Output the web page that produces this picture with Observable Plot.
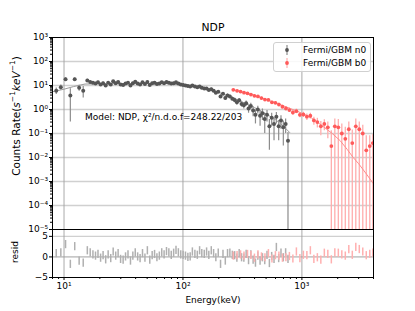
<!DOCTYPE html>
<html><head><meta charset="utf-8">
<script src="https://cdn.jsdelivr.net/npm/d3@7"></script>
<script src="https://cdn.jsdelivr.net/npm/@observablehq/plot@0.6"></script>
<style>
body{margin:0;background:#fff;font-family:"DejaVu Sans",sans-serif;}
#wrap{position:relative;width:415px;height:311px;overflow:hidden;}
#wrap svg{position:absolute;left:0;font-family:"DejaVu Sans",sans-serif;}
.lbl{position:absolute;white-space:nowrap;color:#000;font-size:9px;}
</style></head>
<body><div id="wrap"></div>
<script>
// ---------- data ----------
const title = "NDP";
const n0Label = "Fermi/GBM n0", b0Label = "Fermi/GBM b0";
const annText = "Model: NDP, χ²/n.d.o.f=248.22/203";
const annE = 15, annRate = 0.46;
const xTicks = [10, 100, 1000];
const yTicks = [1e-5, 1e-4, 1e-3, 1e-2, 1e-1, 1, 10, 100, 1000];
const rTicks = [-5, 0, 5];

const n0E = [8.6,9.4,10.3,11.3,12.3,13.4,14.5,15.7,16.6,17.5,18.4,19.3,20.3,21.3,22.4,23.5,24.7,25.9,27.2,28.5,29.9,31.4,32.9,34.5,36.2,37.9,39.7,41.6,43.6,45.7,47.9,50.2,52.6,55.1,57.7,60.4,63.3,66.3,69.4,72.7,76.1,79.7,83.5,87.4,91.5,95.8,100.3,105,110,115,120,126,132,138,144,151,158,165,173,181,189,198,207,217,227,237,248,260,272,284,297,311,325,340,356,372,389,407,426,445,466,487,509,533,557,583,610,638,667,698,730,764];
const n0Rate = [6.0,8.5,18,3.8,18,8.0,6.0,16,14,13,12,13.5,11,12.5,10,13,11,15,12.5,14,11,10.5,12,13,10,12.5,14.5,12,11,13.5,11.5,14,10.5,12.5,13,11.5,12,13.5,12.5,14,13,12,12.5,13.5,12,11,10.5,10,9.5,9.0,10,9.0,8.5,9.0,8.0,7.5,7.5,6.5,7.0,6.0,5.0,5.5,3.5,4.5,3.0,3.8,3.5,2.8,2.5,2.0,2.4,1.7,1.5,1.8,1.1,1.4,0.9,0.6,1.0,0.55,0.7,0.4,0.6,0.2,0.45,0.25,0.5,0.2,0.35,0.18,0.25,0.05];
const n0Err = [1.8,2.0,3,3.5,2.5,2.2,3.0,2.0,1.6,1.5,1.5,1.5,1.4,1.4,1.4,1.3,1.3,1.3,1.3,1.2,1.2,1.2,1.2,1.2,1.2,1.2,1.2,1.2,1.1,1.1,1.1,1.1,1.1,1.1,1.1,1.1,1.1,1.1,1.1,1.1,1.1,1.1,1.1,1.1,1.1,1.0,1.0,1.0,1.0,0.9,0.9,0.9,0.9,0.9,0.9,0.8,0.8,0.8,0.8,0.8,0.7,0.7,0.6,0.6,0.6,0.6,0.5,0.5,0.5,0.5,0.5,0.45,0.45,0.45,0.4,0.4,0.4,0.35,0.35,0.35,0.35,0.3,0.3,0.18,0.25,0.2,0.25,0.15,0.2,0.15,0.15,0.06];
const n0Resid = [0.8,1.0,3.0,-1.8,2.5,-1.0,-1.5,1.5,1.0,0.5,0.2,0.6,-0.3,0.3,-0.7,0.5,-0.4,1.2,0.2,0.8,-0.6,-0.8,0.0,0.5,-1.0,0.2,1.0,0.0,-0.4,0.8,-0.3,1.5,-0.8,0.3,0.6,-0.2,0.2,1.0,0.5,1.3,1.0,0.4,0.9,1.6,1.0,0.5,0.4,0.2,-0.1,0.0,1.2,0.6,0.4,1.5,0.8,0.6,1.2,0.4,1.5,0.8,-0.2,0.9,-1.8,0.6,-1.0,0.8,0.9,0.4,0.3,-0.3,0.8,-0.2,-0.3,0.6,-0.9,0.5,-0.8,-1.5,0.2,-1.0,-0.2,-0.9,0.4,-1.6,0.1,-0.6,2.3,-0.4,0.9,-0.2,1.0,-0.6];
const n0ModelE = [8,10,12,15,20,40,70,100,130,160,200,250,300,400,500,600,700,790];
const n0ModelRate = [5.5,7,9,11.5,11.8,12,12.2,10.5,9,7.5,5.2,3.4,2.3,1.2,0.65,0.38,0.2,0.11];

const b0E = [265,285,305,326,349,373,399,427,457,489,523,560,599,641,686,734,785,840,899,962,1029,1101,1178,1261,1349,1443,1544,1652,1768,1892,2024,2166,2317,2480,2653,2839,3038,3250,3478,3721,3950];
const b0Rate = [6.6,6.0,5.6,5.0,4.7,4.2,3.7,3.5,3.0,2.6,2.5,2.0,1.9,1.6,1.3,1.1,0.95,0.75,0.85,0.6,0.62,0.5,0.55,0.35,0.3,0.2,0.25,0.18,0.03,0.2,0.18,0.1,0.06,0.15,0.04,0.2,0.15,0.1,0.02,0.03,0.04];
const b0Err = [0.5,0.45,0.4,0.4,0.4,0.35,0.35,0.35,0.3,0.3,0.3,0.25,0.25,0.25,0.22,0.2,0.2,0.18,0.18,0.15,0.15,0.15,0.15,0.13,0.13,0.12,0.12,0.12,0.1,0.2,0.2,0.15,0.12,0.15,0.1,0.2,0.15,0.12,0.06,0.05,0.05];
const b0Resid = [0.2,0.3,0.5,0.2,0.6,0.4,-0.3,0.5,0.0,-0.2,0.8,-0.5,0.3,0.2,-0.3,-0.2,0.1,-0.5,1.2,-0.4,0.4,0.3,1.5,-0.6,-0.2,-0.8,0.9,0.6,-0.7,1.0,0.9,0.5,0.2,1.8,0.4,2.3,1.8,1.2,0.3,0.6,0.9];
const b0ModelE = [265,400,600,800,1000,1200,1500,1800,2100,2400,2700,3000,3500,4000];
const b0ModelRate = [6.6,3.9,1.9,1.1,0.7,0.45,0.2,0.1,0.05,0.022,0.01,0.0055,0.002,0.0008];

// ---------- build ----------
const mk = (E, R, S, Q) => E.map((e, i) => ({e, r: R[i], s: S[i], q: Q[i]}));
const n0 = mk(n0E, n0Rate, n0Err, n0Resid);
const b0 = mk(b0E, b0Rate, b0Err, b0Resid);
const n0Model = n0ModelE.map((e, i) => ({e, r: n0ModelRate[i]}));
const b0Model = b0ModelE.map((e, i) => ({e, r: b0ModelRate[i]}));
const lo = d => Math.max(d.r - d.s, 1e-7);

const supMap = {"-":"⁻","0":"⁰","1":"¹","2":"²","3":"³","4":"⁴","5":"⁵","6":"⁶","7":"⁷","8":"⁸","9":"⁹"};
const pow10 = v => "10" + String(Math.round(Math.log10(v))).split("").map(c => supMap[c]).join("");
const minorLog = (a, b) => { const out = []; for (let p = a; p < b; p++) for (let k = 2; k <= 9; k++) out.push(k * 10 ** p); return out; };
const xMinor = minorLog(0, 4).filter(v => v >= 8 && v <= 4000);
const yMinor = minorLog(-5, 3);

const W = 415, ML = 52, MR = 42;
const GRAYDOT = "#555", GRAYBAR = "#8c8c8c", REDDOT = "#ff5a5a", REDBAR = "#ffadad";

const main = Plot.plot({
  width: W, height: 240, marginTop: 37, marginBottom: 11, marginLeft: ML, marginRight: MR,
  style: {fontSize: "9px", fontFamily: "DejaVu Sans", color: "#000", background: "transparent"},
  x: {type: "log", domain: [8, 4000], axis: null},
  y: {type: "log", domain: [1e-5, 1e3], axis: null},
  marks: [
    Plot.ruleY(yTicks.slice(1, -1), {stroke: "#d0d0d0", strokeWidth: 1.4}),
    Plot.ruleX(xTicks, {stroke: "#a0a0a0", strokeWidth: 0.9}),
    Plot.ruleX(n0, {x: "e", y1: lo, y2: d => d.r + d.s, stroke: GRAYBAR, strokeWidth: 1.2, clip: true}),
    Plot.ruleX(b0, {x: "e", y1: lo, y2: d => d.r + d.s, stroke: REDBAR, strokeWidth: 1.3, clip: true}),
    Plot.line(n0Model, {x: "e", y: "r", stroke: "#9a9a9a", strokeWidth: 1, clip: true}),
    Plot.line(b0Model, {x: "e", y: "r", stroke: "#ff8c8c", strokeWidth: 1, clip: true}),
    Plot.dot(n0, {x: "e", y: "r", r: 2, fill: GRAYDOT, clip: true}),
    Plot.dot(b0, {x: "e", y: "r", r: 1.9, fill: REDDOT, clip: true}),
    Plot.text([{e: annE, r: annRate}], {x: "e", y: "r", text: () => annText, textAnchor: "start", fontSize: 9, fill: "#000"}),
    Plot.axisY(yMinor, {tickSize: 2, tickFormat: () => "", label: null, stroke: "#000"}),
    Plot.axisY(yTicks, {tickSize: 3, tickPadding: 1.5, tickFormat: pow10, label: null, stroke: "#000"}),
    Plot.frame({stroke: "#000", strokeWidth: 1})
  ]
});
main.style.top = "0px";

const resid = Plot.plot({
  width: W, height: 82, marginTop: 0, marginBottom: 34, marginLeft: ML, marginRight: MR,
  style: {fontSize: "9px", fontFamily: "DejaVu Sans", color: "#000", background: "transparent"},
  x: {type: "log", domain: [8, 4000], axis: null},
  y: {domain: [-5, 6.67], axis: null},
  marks: [
    Plot.ruleY([5], {stroke: "#d0d0d0", strokeWidth: 1.4}),
    Plot.ruleY([0], {stroke: "#a0a0a0", strokeWidth: 1}),
    Plot.ruleX(xTicks, {stroke: "#a0a0a0", strokeWidth: 0.9}),
    Plot.ruleX(n0, {x: "e", y1: d => d.q - 1, y2: d => d.q + 1, stroke: "#b0b0b0", strokeWidth: 1.5, clip: true}),
    Plot.ruleX(b0, {x: "e", y1: d => d.q - 1, y2: d => d.q + 1, stroke: "#ffb0b0", strokeWidth: 1.5, clip: true}),
    Plot.axisX(xMinor, {tickSize: 2, tickFormat: () => "", label: null, stroke: "#000"}),
    Plot.axisX(xTicks, {tickSize: 3, tickPadding: 2, tickFormat: pow10, label: null, stroke: "#000"}),
    Plot.axisY(rTicks, {tickSize: 3, tickPadding: 1.5, tickFormat: v => String(v).replace("-", "−"), label: null, stroke: "#000"}),
    Plot.frame({stroke: "#000", strokeWidth: 1})
  ]
});
resid.style.top = "229px";

const wrap = document.getElementById("wrap");
wrap.appendChild(resid);
wrap.appendChild(main);

function addLabel(html, x, y, extra) {
  const d = document.createElement("div");
  d.className = "lbl";
  d.innerHTML = html;
  d.style.left = x + "px"; d.style.top = y + "px";
  d.style.transform = "translate(-50%,-50%)" + (extra || "");
  wrap.appendChild(d);
  return d;
}
addLabel(title, 213, 27).style.fontSize = "10.8px";
addLabel("Energy(keV)", 213, 300);
addLabel('Counts Rate(<i>s</i><sup style="font-size:7.5px">−1</sup><i>keV</i><sup style="font-size:7.5px">−1</sup>)', 15, 116, " rotate(-90deg)").style.fontSize = "10.5px";
addLabel("resid", 15, 252, " rotate(-90deg)");

// legend
const leg = document.createElement("div");
leg.style.cssText = "position:absolute;left:273px;top:42px;width:96px;height:28px;border:1px solid #d0d0d0;border-radius:3px;background:rgba(255,255,255,0.85);font-size:9px;";
const entry = (label, dot, bar, top) => `<div style="position:absolute;left:0;top:${top}px;height:12px;width:96px;">
<svg width="20" height="12" style="position:absolute;left:7px;top:0"><line x1="6" x2="6" y1="1" y2="11" stroke="${bar}" stroke-width="1.2"/><circle cx="6" cy="6" r="1.9" fill="${dot}"/></svg>
<span style="position:absolute;left:29px;top:0;line-height:12px;white-space:nowrap">${label}</span></div>`;
leg.innerHTML = entry(n0Label, GRAYDOT, GRAYBAR, 1) + entry(b0Label, REDDOT, REDBAR, 14);
wrap.appendChild(leg);
</script></body></html>
